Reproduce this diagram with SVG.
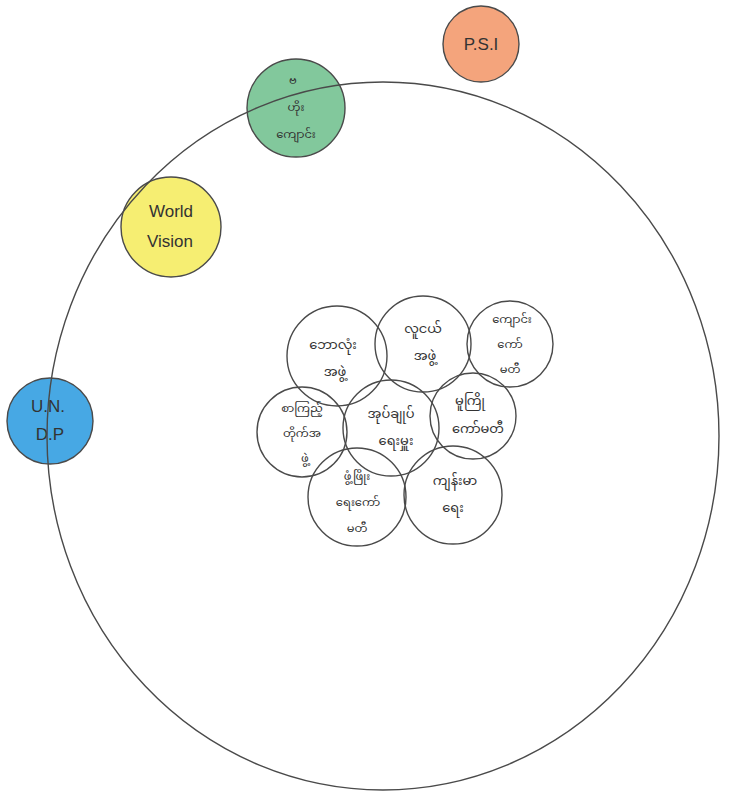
<svg xmlns="http://www.w3.org/2000/svg" width="745" height="798" viewBox="0 0 745 798">
<style>
.c{stroke:#4a4a4a;stroke-width:1.4;fill:none}
.t{font-family:"Noto Sans Myanmar","Padauk","Myanmar Text","Noto Sans",sans-serif;font-size:13px;fill:#333;text-anchor:middle}
.s{font-size:11.5px}
.e{font-family:"Liberation Sans",sans-serif;font-size:17px;fill:#333;text-anchor:middle}
</style>
<rect width="745" height="798" fill="#ffffff"/>
<g id="psi"><circle cx="481" cy="44" r="38" class="c" style="fill:#f4a47c"/><text class="e" x="481" y="50">P.S.I</text></g>
<g id="green-school"><circle cx="296" cy="108" r="49" class="c" style="fill:#82c89c"/>
<text class="t s" x="293" y="84">ဗ</text><text class="t s" x="296" y="111">ဟိုး</text><text class="t s" x="296" y="138">ကျောင်း</text></g>
<g id="world-vision"><circle cx="171" cy="227" r="50" class="c" style="fill:#f6ee72"/><text class="e" x="171" y="217">World</text><text class="e" x="170" y="247">Vision</text></g>
<g id="undp"><circle cx="50" cy="421" r="43" class="c" style="fill:#47a8e4"/><text class="e" x="48" y="412">U.N.</text><text class="e" x="50" y="440">D.P</text></g>
<g id="village"><ellipse cx="383" cy="436" rx="336" ry="354" class="c"/></g>
<g id="football"><circle cx="337" cy="356" r="50" class="c"/><text class="t" x="333" y="349">ဘောလုံး</text><text class="t" x="335" y="376">အဖွဲ့</text></g>
<g id="youth"><circle cx="423" cy="344" r="48" class="c"/><text class="t" x="423" y="333">လူငယ်</text><text class="t" x="425" y="360">အဖွဲ့</text></g>
<g id="school-committee"><circle cx="510" cy="344" r="43" class="c"/><text class="t s" x="512" y="323">ကျောင်း</text><text class="t s" x="510" y="348">ကော်</text><text class="t s" x="510" y="373">မတီ</text></g>
<g id="library"><circle cx="302" cy="432" r="45" class="c"/><text class="t s" x="302" y="412">စာကြည့်</text><text class="t s" x="302" y="437">တိုက်အ</text><text class="t s" x="305" y="462">ဖွဲ့</text></g>
<g id="administrator"><circle cx="391" cy="428" r="48" class="c"/><text class="t" x="391" y="418">အုပ်ချုပ်</text><text class="t" x="396" y="445">ရေးမှူး</text></g>
<g id="preschool"><circle cx="473" cy="416" r="43" class="c"/><text class="t" x="470" y="405">မူကြို</text><text class="t" x="478" y="433">ကော်မတီ</text></g>
<g id="development"><circle cx="357" cy="497" r="49" class="c"/><text class="t s" x="357" y="480">ဖွံ့ဖြိုး</text><text class="t s" x="358" y="506">ရေးကော်</text><text class="t s" x="357" y="532">မတီ</text></g>
<g id="health"><circle cx="453" cy="495" r="49" class="c"/><text class="t" x="455" y="485">ကျန်းမာ</text><text class="t" x="453" y="512">ရေး</text></g>
</svg>
